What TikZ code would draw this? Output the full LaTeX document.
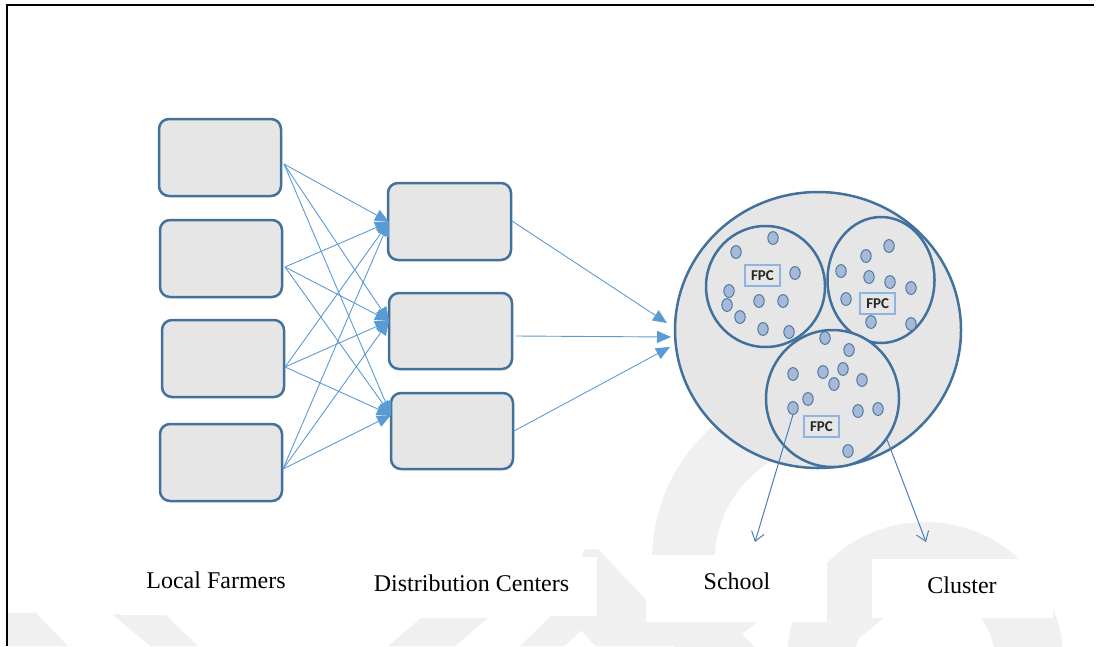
\documentclass[tikz,border=0pt]{standalone}
\usepackage{fontspec}
\setmainfont{Liberation Serif}
\newfontfamily\fpcfont{Carlito}
\usetikzlibrary{arrows.meta,shapes.geometric}
\definecolor{boxfill}{HTML}{E6E6E6}
\definecolor{boxline}{HTML}{41719C}
\definecolor{arrowblue}{HTML}{5B9BD5}
\definecolor{outblue}{HTML}{4A7EBB}
\definecolor{dotfill}{HTML}{A6B9D8}
\definecolor{fpcline}{HTML}{8EB4E3}
\definecolor{wmark}{HTML}{F0F0F0}
\begin{document}
\begin{tikzpicture}[x=1pt,y=-1pt,
  stagebox/.style={draw=boxline, fill=boxfill, line width=2.5pt, rounded corners=10pt, inner sep=0pt},
  ring/.style={ellipse, draw=boxline, fill=boxfill, line width=2.5pt, inner sep=0pt},
  dotshape/.style={draw=boxline, fill=dotfill, line width=0.9pt},
  fpcbox/.style={draw=fpcline, fill=boxfill, line width=1.6pt, minimum width=35pt, minimum height=21pt, inner sep=0pt, font=\fpcfont\bfseries\fontsize{15}{15}\selectfont, text=black!85},
  flow/.style={draw=arrowblue, line width=0.9pt, -{Triangle[length=14pt,width=12pt]}},
  outflow/.style={draw=outblue, line width=1pt, -{Straight Barb[length=9pt,width=13pt]}},
  lbl/.style={font=\fontsize{24}{28}\selectfont, anchor=base, inner sep=0pt},
  whitebox/.style={fill=white, draw=none}
]
\useasboundingbox (0,0) rectangle (1099,646);
% watermark
\begin{scope}
\clip (0,0) rectangle (1099,646);
\fill[wmark] (830,560) ++(110:178) arc[start angle=110, end angle=250, radius=178] -- ++(250:-63) arc[start angle=250, end angle=110, radius=115] -- cycle;
\fill[wmark] (925,660) ++(180:138) arc[start angle=180, end angle=360, radius=138] -- ++(0:-68) arc[start angle=360, end angle=180, radius=70] -- cycle;
\fill[wmark] (8,613) -- (36,613) -- (68,646) -- (8,646) -- cycle;
\fill[wmark] (112,614) -- (165,614) -- (198,646) -- (150,646) -- cycle;
\fill[wmark] (421,618) -- (488,618) -- (455,646) -- (388,646) -- cycle;
\fill[wmark] (555,612) -- (600,612) -- (565,646) -- (520,646) -- cycle;
\fill[wmark] (598,549) -- (690,646) -- (595,646) -- (560,606) -- (585,549) -- cycle;
\fill[wmark] (740,600) -- (785,600) -- (727,646) -- (683,646) -- cycle;
\fill[wmark] (860,600) -- (905,600) -- (850,646) -- (805,646) -- cycle;
\end{scope}
% white label boxes
\fill[whitebox] (120,550) rectangle (330,615);
\fill[whitebox] (340,557) rectangle (597,616);
\fill[whitebox] (646,555) rectangle (827,622);
\fill[whitebox] (872,559) rectangle (1053,618);
% frame
\draw[line width=2.5pt] (7,646) -- (7,5) -- (1094,5);
% farmers
\node[stagebox, minimum width=122pt, minimum height=77pt] (f1) at (220,157.5) {};
\node[stagebox, minimum width=122pt, minimum height=77pt] (f2) at (221,258.5) {};
\node[stagebox, minimum width=122pt, minimum height=77pt] (f3) at (223,358.5) {};
\node[stagebox, minimum width=122pt, minimum height=77pt] (f4) at (221,462.5) {};
% distribution centers
\node[stagebox, minimum width=123pt, minimum height=77pt] (d1) at (449.5,221.5) {};
\node[stagebox, minimum width=123pt, minimum height=76pt] (d2) at (450.5,331) {};
\node[stagebox, minimum width=122pt, minimum height=76pt] (d3) at (452,431) {};
% connector ends
\coordinate (fo1) at (284,164);
\coordinate (fo2) at (285,267);
\coordinate (fo3) at (285,367);
\coordinate (fo4) at (283,469);
\coordinate (di1) at (389,222);
\coordinate (di2) at (389,321);
\coordinate (di3) at (391,415);
\foreach \a in {1,2,3,4}{
  \foreach \b in {1,2,3}{
    \draw[flow] (fo\a) -- (di\b);
  }
}
% cluster
\node[ring, minimum width=286pt, minimum height=276pt] (big) at (818,330) {};
\node[ring, minimum width=119pt, minimum height=121pt] (s1) at (765.5,286.5) {};
\node[ring, minimum width=107pt, minimum height=126pt] (s2) at (881,280) {};
\node[ring, minimum width=133pt, minimum height=137pt] (s3) at (832.5,398.5) {};
% dots (school members)
\foreach \x/\y in {773/238,736/252,795/273,729/291,727/305,759/301,783/301,740/317,763/329,789/332,
                   889/246,866/256,841/271,869/277,890/282,911/288,846/299,871/322,911/324,
                   825/338,849/350,793/374,823/372,843/369,834/384,862/380,808/399,858/411,878/409,848/451,793/408}
  \filldraw[dotshape] (\x,\y) ellipse[x radius=5.2pt, y radius=6.4pt];
\coordinate (sdot) at (793,414.5);
% FPC
\node[fpcbox] (fpc1) at (762.5,275.7) {FPC};
\node[fpcbox] (fpc2) at (877.7,303.5) {FPC};
\node[fpcbox] (fpc3) at (821.5,426.3) {FPC};
% DC to cluster
\coordinate (do1) at (512,221);
\coordinate (do2) at (516,336);
\coordinate (do3) at (514,431);
\coordinate (ci1) at (667,323);
\coordinate (ci2) at (671,337);
\coordinate (ci3) at (670,347);
\draw[flow] (do1) -- (ci1);
\draw[flow] (do2) -- (ci2);
\draw[flow] (do3) -- (ci3);
% outputs
\coordinate (clstart) at (886,437);
\coordinate (schooltip) at (755,542);
\coordinate (clustertip) at (926,542);
\draw[outflow] (sdot) -- (schooltip);
\draw[outflow] (clstart) -- (clustertip);
% labels
\node[lbl] (lf) at (216,588) {Local Farmers};
\node[lbl] (dc) at (471.5,591) {Distribution Centers};
\node[lbl] (sc) at (737,589) {School};
\node[lbl] (cl) at (962,593) {Cluster};
\end{tikzpicture}
\end{document}
